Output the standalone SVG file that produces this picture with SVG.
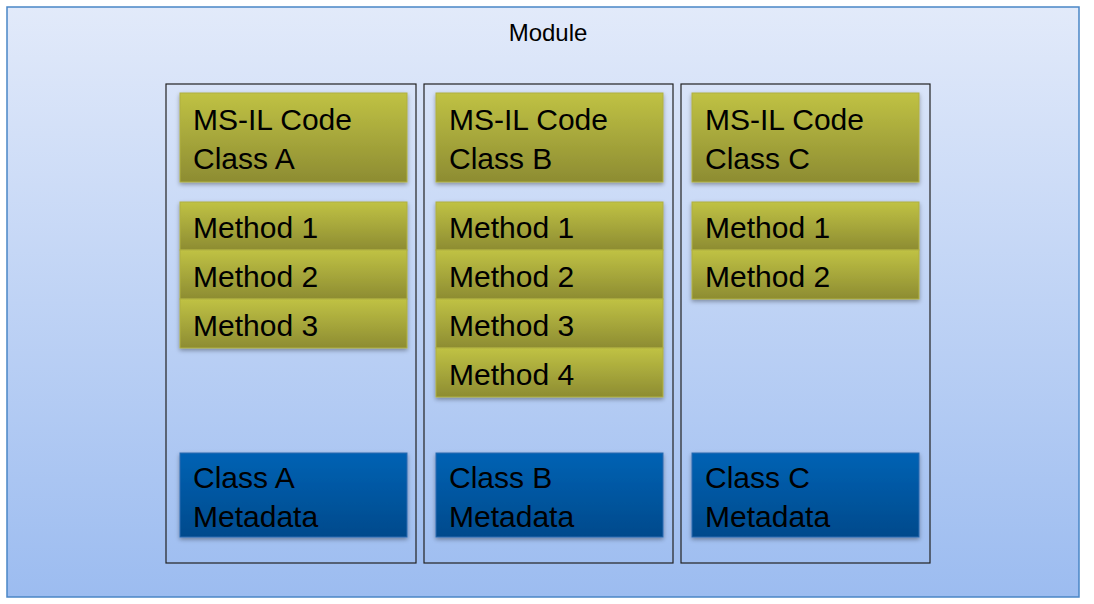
<svg xmlns="http://www.w3.org/2000/svg" width="1094" height="604" viewBox="0 0 1094 604">
<defs>
<linearGradient id="bg" x1="0" y1="0" x2="0" y2="1"><stop offset="0" stop-color="#e2eafa"/><stop offset="1" stop-color="#9cbcf0"/></linearGradient>
<linearGradient id="olive" x1="0" y1="0" x2="0" y2="1"><stop offset="0" stop-color="#c0c244"/><stop offset="1" stop-color="#8d8c32"/></linearGradient>
<linearGradient id="blue" x1="0" y1="0" x2="0" y2="1"><stop offset="0" stop-color="#0062b4"/><stop offset="1" stop-color="#004a8c"/></linearGradient>
<filter id="sh" x="-10%" y="-10%" width="120%" height="130%"><feDropShadow dx="0" dy="2" stdDeviation="2" flood-color="#000" flood-opacity="0.35"/></filter>
</defs>
<style>
.t{font-family:"Liberation Sans",Arial,sans-serif;font-size:30px;fill:#000}
.m{font-family:"Liberation Sans",Arial,sans-serif;font-size:24px;fill:#000}
.col{fill:none;stroke:#222;stroke-width:1.2}
.ol{fill:url(#olive);stroke:#b0b040;stroke-width:1}
.bl{fill:url(#blue);stroke:#2a6ab0;stroke-width:1}
</style>
<g id="module">
<rect x="7" y="7" width="1072" height="590" fill="url(#bg)" stroke="#4a86c6" stroke-width="1.5"/>
<text x="548" y="41" class="m" text-anchor="middle">Module</text>
</g>
<g id="colA">
<rect class="col" x="166" y="84" width="250" height="479"/>
<g filter="url(#sh)">
<rect class="ol" x="180" y="93" width="227" height="89"/>
<rect class="ol" x="180" y="202" width="227" height="48"/>
<rect class="ol" x="180" y="250" width="227" height="49"/>
<rect class="ol" x="180" y="299" width="227" height="49"/>
<rect class="bl" x="180" y="453" width="227" height="84"/>
</g>
<text class="t" x="193" y="130">MS-IL Code</text>
<text class="t" x="193" y="169">Class A</text>
<text class="t" x="193" y="238">Method 1</text>
<text class="t" x="193" y="287">Method 2</text>
<text class="t" x="193" y="336">Method 3</text>
<text class="t" x="193" y="488">Class A</text>
<text class="t" x="193" y="527">Metadata</text>
</g>
<g id="colB" transform="translate(258,0)">
<rect class="col" x="166" y="84" width="249" height="479"/>
<g filter="url(#sh)">
<rect class="ol" x="178" y="93" width="227" height="89"/>
<rect class="ol" x="178" y="202" width="227" height="48"/>
<rect class="ol" x="178" y="250" width="227" height="49"/>
<rect class="ol" x="178" y="299" width="227" height="49"/>
<rect class="ol" x="178" y="348" width="227" height="49"/>
<rect class="bl" x="178" y="453" width="227" height="84"/>
</g>
<text class="t" x="191" y="130">MS-IL Code</text>
<text class="t" x="191" y="169">Class B</text>
<text class="t" x="191" y="238">Method 1</text>
<text class="t" x="191" y="287">Method 2</text>
<text class="t" x="191" y="336">Method 3</text>
<text class="t" x="191" y="385">Method 4</text>
<text class="t" x="191" y="488">Class B</text>
<text class="t" x="191" y="527">Metadata</text>
</g>
<g id="colC" transform="translate(515,0)">
<rect class="col" x="166" y="84" width="249" height="479"/>
<g filter="url(#sh)">
<rect class="ol" x="177" y="93" width="227" height="89"/>
<rect class="ol" x="177" y="202" width="227" height="48"/>
<rect class="ol" x="177" y="250" width="227" height="49"/>
<rect class="bl" x="177" y="453" width="227" height="84"/>
</g>
<text class="t" x="190" y="130">MS-IL Code</text>
<text class="t" x="190" y="169">Class C</text>
<text class="t" x="190" y="238">Method 1</text>
<text class="t" x="190" y="287">Method 2</text>
<text class="t" x="190" y="488">Class C</text>
<text class="t" x="190" y="527">Metadata</text>
</g>
<g id="connectors"/>
</svg>
